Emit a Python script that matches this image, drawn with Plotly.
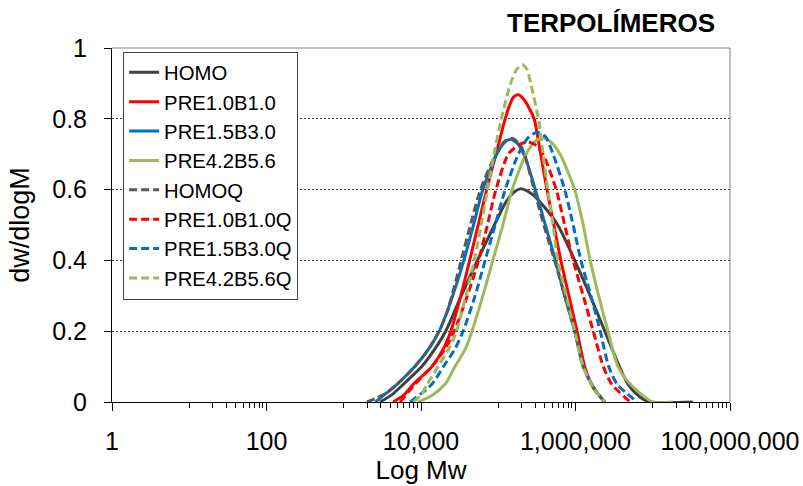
import numpy as np
import plotly.graph_objects as go

# ---- data (log10 of Mw, dw/dlogM) ----
homo_logm = [3.47, 3.62, 3.77, 4.01, 4.18, 4.32, 4.52, 4.73, 4.95, 5.10, 5.20, 5.28, 5.36, 5.45, 5.60, 5.77, 5.99, 6.19, 6.38, 6.53, 6.68, 6.83, 6.96, 7.52]
homo_val = [0, 0.02, 0.05, 0.10, 0.15, 0.20, 0.30, 0.40, 0.50, 0.565, 0.592, 0.602, 0.598, 0.585, 0.55, 0.50, 0.40, 0.30, 0.20, 0.12, 0.05, 0.015, 0, 0]

pre10_logm = [3.64, 3.78, 3.90, 4.14, 4.29, 4.385, 4.515, 4.63, 4.74, 4.85, 4.97, 5.09, 5.15, 5.20, 5.26, 5.33, 5.40, 5.465, 5.51, 5.55, 5.63, 5.72, 5.81, 5.915, 6.02, 6.12, 6.23, 6.38]
pre10_val = [0, 0.02, 0.05, 0.10, 0.15, 0.20, 0.30, 0.40, 0.50, 0.60, 0.70, 0.80, 0.84, 0.862, 0.868, 0.855, 0.83, 0.80, 0.75, 0.70, 0.60, 0.50, 0.40, 0.30, 0.20, 0.10, 0.04, 0]

pre15_logm = [3.41, 3.55, 3.69, 3.92, 4.10, 4.235, 4.33, 4.41, 4.555, 4.68, 4.80, 4.98, 5.08, 5.16, 5.25, 5.35, 5.48, 5.61, 5.74, 5.86, 5.99, 6.10, 6.25, 6.38]
pre15_val = [0, 0.025, 0.05, 0.10, 0.15, 0.20, 0.25, 0.30, 0.40, 0.50, 0.60, 0.70, 0.733, 0.742, 0.73, 0.69, 0.60, 0.50, 0.40, 0.30, 0.20, 0.10, 0.035, 0]

pre42_logm = [3.96, 4.15, 4.31, 4.44, 4.575, 4.66, 4.80, 4.93, 5.06, 5.18, 5.36, 5.48, 5.58, 5.68, 5.80, 5.99, 6.10, 6.19, 6.30, 6.42, 6.55, 6.71, 7.00, 7.26]
pre42_val = [0, 0.02, 0.05, 0.10, 0.15, 0.20, 0.30, 0.40, 0.50, 0.60, 0.70, 0.737, 0.746, 0.735, 0.70, 0.60, 0.50, 0.40, 0.30, 0.20, 0.10, 0.05, 0, 0]

homoq_logm = [3.30, 3.41, 3.55, 3.69, 3.92, 4.10, 4.235, 4.33, 4.40, 4.52, 4.64, 4.77, 4.97, 5.08, 5.18, 5.27, 5.34, 5.44, 5.59, 5.73, 5.86, 5.99, 6.10, 6.25, 6.38]
homoq_val = [0, 0.01, 0.025, 0.05, 0.10, 0.15, 0.20, 0.25, 0.30, 0.40, 0.50, 0.60, 0.70, 0.736, 0.745, 0.73, 0.70, 0.62, 0.50, 0.40, 0.30, 0.20, 0.10, 0.035, 0]

pre10q_logm = [3.73, 3.92, 4.14, 4.31, 4.43, 4.60, 4.745, 4.86, 4.97, 5.13, 5.27, 5.385, 5.49, 5.58, 5.75, 5.86, 5.97, 6.10, 6.23, 6.36, 6.47, 6.71]
pre10q_val = [0, 0.05, 0.10, 0.15, 0.20, 0.30, 0.40, 0.50, 0.60, 0.70, 0.727, 0.735, 0.725, 0.70, 0.60, 0.50, 0.40, 0.30, 0.20, 0.10, 0.05, 0]

pre15q_logm = [3.86, 4.14, 4.29, 4.44, 4.545, 4.70, 4.83, 4.96, 5.09, 5.26, 5.38, 5.50, 5.61, 5.71, 5.86, 5.97, 6.07, 6.20, 6.32, 6.43, 6.54, 6.80]
pre15q_val = [0, 0.05, 0.10, 0.15, 0.20, 0.30, 0.40, 0.50, 0.60, 0.70, 0.745, 0.762, 0.75, 0.70, 0.60, 0.50, 0.40, 0.30, 0.20, 0.10, 0.05, 0]

pre42q_logm = [3.90, 4.00, 4.08, 4.22, 4.36, 4.46, 4.58, 4.69, 4.78, 4.86, 4.945, 5.04, 5.16, 5.24, 5.31, 5.37, 5.42, 5.52, 5.58, 5.64, 5.71, 5.77, 5.88, 5.99, 6.10, 6.23, 6.38]
pre42q_val = [0, 0.02, 0.05, 0.10, 0.15, 0.20, 0.30, 0.40, 0.50, 0.60, 0.70, 0.80, 0.90, 0.94, 0.953, 0.94, 0.90, 0.80, 0.70, 0.60, 0.50, 0.40, 0.30, 0.20, 0.10, 0.04, 0]

x_tick_vals = [1, 100, 10000, 1000000, 100000000]
x_tick_text = ["1", "100", "10,000", "1,000,000", "100,000,000"]

series = [
    ("HOMO", homo_logm, homo_val, "#404040", "solid"),
    ("PRE1.0B1.0", pre10_logm, pre10_val, "#FF0000", "solid"),
    ("PRE1.5B3.0", pre15_logm, pre15_val, "#0070C0", "solid"),
    ("PRE4.2B5.6", pre42_logm, pre42_val, "#9BBB59", "solid"),
    ("HOMOQ", homoq_logm, homoq_val, "#595959", "8px,4px"),
    ("PRE1.0B1.0Q", pre10q_logm, pre10q_val, "#FF0000", "8px,4px"),
    ("PRE1.5B3.0Q", pre15q_logm, pre15q_val, "#0070C0", "8px,4px"),
    ("PRE4.2B5.6Q", pre42q_logm, pre42q_val, "#9BBB59", "8px,4px"),
]

FONT = "Liberation Sans, Arial, sans-serif"

fig = go.Figure()
for name, lm, v, color, dash in series:
    fig.add_trace(go.Scatter(
        x=np.power(10.0, lm), y=v, name=name, mode="lines", legendgroup=name,
        line=dict(color=color, width=3, dash=dash, shape="spline", smoothing=0.7),
    ))

minor_vals = [k * 10.0 ** e for e in (1, 3, 5, 7) for k in range(1, 10)]

fig.update_layout(
    width=803, height=486,
    margin=dict(l=112, r=73, t=48, b=84),
    paper_bgcolor="white", plot_bgcolor="white",
    font=dict(family=FONT, size=25, color="black"),
    showlegend=True,
    legend=dict(
        x=0.018, y=0.99, xanchor="left", yanchor="top",
        bgcolor="white", bordercolor="#404040", borderwidth=1,
        font=dict(family=FONT, size=20.3, color="black"),
        traceorder="grouped", tracegroupgap=0,
    ),
    xaxis=dict(
        type="log", range=[0, 8], automargin=False,
        tickvals=x_tick_vals, ticktext=x_tick_text,
        ticks="outside", ticklen=8, tickcolor="black",
        showline=True, linecolor="black", linewidth=1,
        showgrid=False, zeroline=False, layer="below traces",
        ticklabelstandoff=9,
        tickfont=dict(size=25),
        minor=dict(tickvals=minor_vals, ticks="outside", ticklen=5, tickcolor="black", showgrid=False),
        title=dict(text="Log Mw", font=dict(size=26), standoff=2),
    ),
    yaxis=dict(
        range=[0, 1], tick0=0, dtick=0.2, automargin=False,
        ticks="outside", ticklen=7, tickcolor="black",
        showline=True, linecolor="black", linewidth=1,
        showgrid=True, gridcolor="#404040", gridwidth=1, griddash="2px,2px",
        zeroline=False, layer="below traces",
        ticklabelstandoff=12,
        tickfont=dict(size=25),
        title=dict(text="dw/dlogM", font=dict(size=27), standoff=14),
    ),
    shapes=[
        dict(type="line", xref="paper", yref="paper", x0=0, x1=1, y0=1, y1=1,
             line=dict(color="#808080", width=1)),
        dict(type="line", xref="paper", yref="paper", x0=1, x1=1, y0=0, y1=1,
             line=dict(color="#808080", width=1)),
    ],
    annotations=[
        dict(text="<b>TERPOLÍMEROS</b>", xref="paper", yref="paper",
             x=(611 - 112) / 618, y=1.0, yshift=8, xanchor="center", yanchor="bottom",
             showarrow=False, font=dict(family=FONT, size=26, color="black")),
    ],
)

fig.write_html("out.html", config={"displayModeBar": False},
               post_script="document.body.style.margin='0';document.body.style.overflow='hidden';")
